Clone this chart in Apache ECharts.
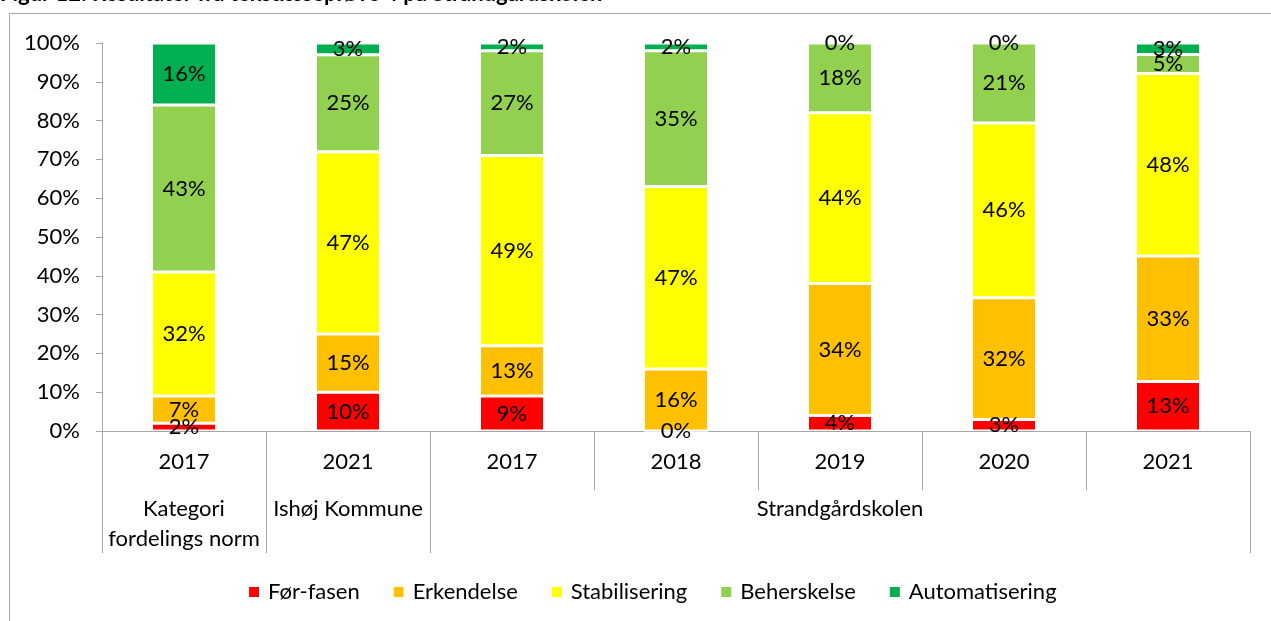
<!DOCTYPE html>
<html>
<head>
<meta charset="utf-8">
<title>Tekstlæseprøve 4</title>
<script src="https://cdn.jsdelivr.net/npm/echarts@6/dist/echarts.min.js"></script>
<style>
  html, body { margin: 0; padding: 0; background: #fff; }
  #chart { width: 1271px; height: 621px; }
</style>
</head>
<body>
<div id="chart"></div>
<script>
// years (first level) and groups (second level)
const years = ["2017", "2021", "2017", "2018", "2019", "2020", "2021"];
const groups = ["Kategori\nfordelings norm", "Ishøj Kommune", "Strandgårdskolen"];
const groupBounds = [0, 1, 2, 7]; // group dividers on the category scale
const groupCenters = [0.5, 1.5, 4.5];

const seriesNames = ["Før-fasen", "Erkendelse", "Stabilisering", "Beherskelse", "Automatisering"];
const seriesColors = ["#FF0000", "#FFC000", "#FFFF00", "#92D050", "#00B050"];

// labelled percentages per phase
const forFasen = [2, 10, 9, 0, 4, 3, 13];
const erkendelse = [7, 15, 13, 16, 34, 32, 33];
const stabilisering = [32, 47, 49, 47, 44, 46, 48];
const beherskelse = [43, 25, 27, 35, 18, 21, 5];
const automatisering = [16, 3, 2, 2, 0, 0, 3];

const yTicks = [0, 10, 20, 30, 40, 50, 60, 70, 80, 90, 100];

const values = [forFasen, erkendelse, stabilisering, beherskelse, automatisering];
// 100% stacked: each column scaled to its own total, like the spreadsheet does
const totals = years.map((y, i) => values.reduce((s, arr) => s + arr[i], 0));

const FONT = "Lato";
const FS = 22;
const chart = echarts.init(document.getElementById("chart"));

const option = {
  animation: false,
  textStyle: { fontFamily: FONT },
  graphic: [
    {
      type: "rect",
      shape: { x: 9.5, y: 13.5, width: 1400, height: 800 },
      style: { fill: "none", stroke: "#A6A6A6", lineWidth: 1 },
      silent: true
    },
    {
      type: "text",
      left: 0,
      top: -17,
      style: {
        text: "Figur 12: Resultater fra tekstlæseprøve 4 på Strandgårdskolen",
        font: "bold 22px " + FONT,
        fill: "#000"
      },
      silent: true
    }
  ],
  grid: { left: 102, right: 21, top: 43, bottom: 190 },
  legend: {
    data: seriesNames,
    left: 242,
    top: 576,
    icon: "rect",
    itemWidth: 12,
    itemHeight: 12,
    itemGap: 32,
    textStyle: { fontFamily: FONT, fontSize: FS, color: "#000", padding: [0, 0, 0, 3] }
  },
  xAxis: [
    {
      type: "category",
      data: years,
      position: "bottom",
      axisLine: { lineStyle: { color: "#A6A6A6", width: 1 } },
      axisTick: { show: true, interval: 0, length: 59, lineStyle: { color: "#A6A6A6" } },
      axisLabel: { interval: 0, margin: 20, fontSize: FS, color: "#000", fontFamily: FONT }
    },
    {
      type: "value",
      min: 0,
      max: 7,
      position: "bottom",
      axisLine: { show: false },
      splitLine: { show: false },
      axisTick: {
        show: true,
        customValues: groupBounds,
        length: 122,
        lineStyle: { color: "#A6A6A6" }
      },
      axisLabel: {
        customValues: groupCenters,
        formatter: (v) => groups[groupCenters.indexOf(v)] || "",
        margin: 63,
        lineHeight: 30,
        fontSize: FS,
        color: "#000",
        fontFamily: FONT
      }
    }
  ],
  yAxis: {
    type: "value",
    min: 0,
    max: 100,
    interval: 10,
    axisLine: { show: true, lineStyle: { color: "#A6A6A6" } },
    axisTick: { show: true, length: 6, lineStyle: { color: "#A6A6A6" } },
    splitLine: { show: false },
    axisLabel: {
      formatter: (v) => yTicks.indexOf(v) >= 0 ? v + "%" : "",
      margin: 22,
      fontSize: FS,
      color: "#000",
      fontFamily: FONT
    }
  },
  series: seriesNames.map((name, s) => ({
    name: name,
    type: "bar",
    stack: "total",
    xAxisIndex: 0,
    barWidth: 65,
    itemStyle: { color: seriesColors[s], borderColor: "#fff", borderWidth: 1.5 },
    label: {
      show: true,
      position: "inside",
      color: "#000",
      fontSize: FS,
      fontFamily: FONT,
      formatter: (p) => values[s][p.dataIndex] + "%"
    },
    data: values[s].map((v, i) => v / totals[i] * 100)
  }))
};

chart.setOption(option);
window.addEventListener("resize", () => chart.resize());
</script>
</body>
</html>
